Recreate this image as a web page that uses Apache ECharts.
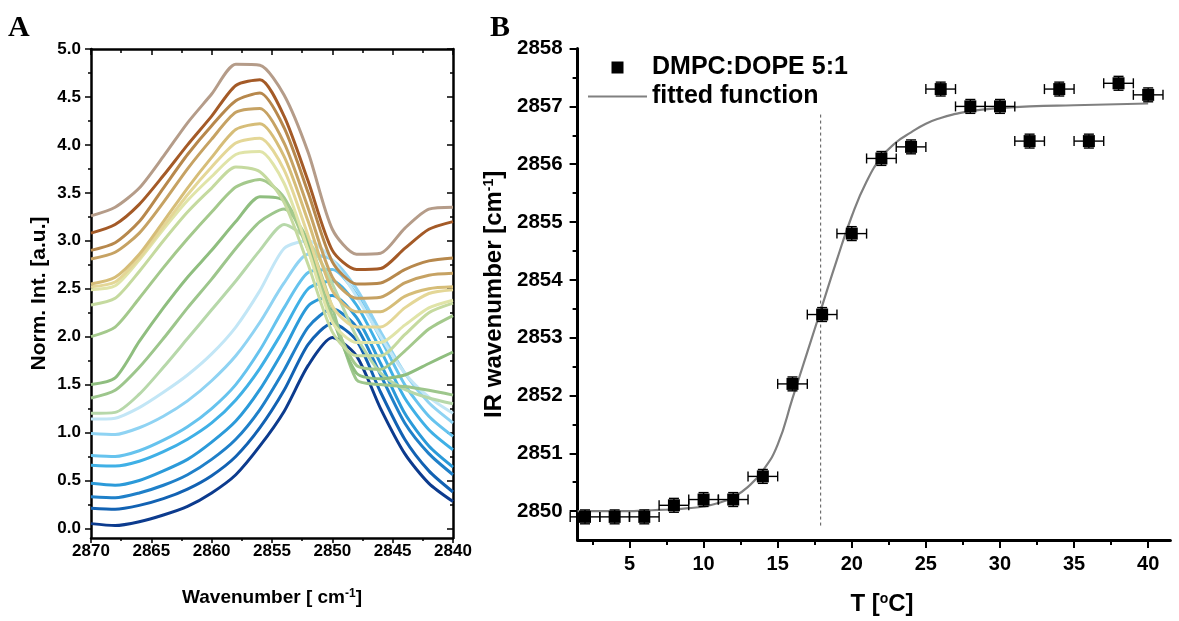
<!DOCTYPE html>
<html><head><meta charset="utf-8">
<script src="https://cdn.jsdelivr.net/npm/echarts@6/dist/echarts.min.js"></script>
<style>html,body{margin:0;padding:0;background:#fff}#c{width:1179px;height:621px}</style>
</head><body><div id="c"></div>
<script>
// ---------- Panel A: spectra ----------
const wavenumbers = [2870,2868,2866,2864,2862,2860,2858,2856,2854,2852,2850,2848,2846,2844,2842,2840];
const s02 = [0.05,0.03,0.07,0.14,0.23,0.37,0.56,0.86,1.22,1.70,1.99,1.80,1.25,0.78,0.47,0.28];
const s04 = [0.21,0.20,0.24,0.31,0.41,0.55,0.75,1.05,1.44,1.92,2.14,1.96,1.42,0.93,0.60,0.38];
const s06 = [0.33,0.32,0.37,0.45,0.56,0.72,0.93,1.24,1.65,2.10,2.29,2.10,1.60,1.10,0.78,0.56];
const s08 = [0.47,0.45,0.50,0.60,0.72,0.90,1.12,1.45,1.87,2.32,2.43,2.20,1.72,1.20,0.86,0.64];
const s10 = [0.66,0.65,0.70,0.80,0.93,1.10,1.34,1.67,2.08,2.50,2.58,2.33,1.86,1.36,1.03,0.82];
const s12 = [0.76,0.75,0.81,0.92,1.06,1.25,1.50,1.86,2.30,2.67,2.70,2.44,1.98,1.50,1.17,0.96];
const s14 = [0.99,0.98,1.05,1.17,1.33,1.54,1.80,2.15,2.56,2.86,2.80,2.50,2.05,1.62,1.31,1.10];
const s16 = [1.14,1.15,1.26,1.42,1.60,1.82,2.10,2.48,2.92,3.00,2.80,2.42,2.00,1.62,1.37,1.20];
const s18 = [1.20,1.21,1.40,1.68,1.98,2.28,2.58,2.90,3.17,3.00,2.55,2.00,1.62,1.45,1.36,1.30];
const s20 = [1.36,1.44,1.68,1.98,2.30,2.60,2.92,3.20,3.33,3.00,2.30,1.55,1.50,1.48,1.44,1.39];
const s22 = [1.50,1.57,1.95,2.30,2.62,2.90,3.20,3.46,3.42,2.95,2.20,1.62,1.56,1.60,1.72,1.84];
const s24 = [2.00,2.10,2.40,2.72,3.02,3.30,3.56,3.64,3.45,2.90,2.20,1.70,1.66,1.85,2.08,2.22];
const s26 = [2.33,2.40,2.68,3.00,3.30,3.55,3.77,3.72,3.40,2.75,2.05,1.80,1.80,2.02,2.25,2.35];
const s28 = [2.49,2.53,2.80,3.12,3.42,3.67,3.90,3.93,3.60,2.90,2.15,1.94,1.94,2.12,2.30,2.38];
const s30 = [2.52,2.57,2.82,3.15,3.48,3.77,4.02,4.07,3.74,3.05,2.32,2.10,2.10,2.30,2.45,2.49];
const s32 = [2.55,2.62,2.86,3.20,3.55,3.87,4.16,4.22,3.88,3.20,2.48,2.26,2.26,2.42,2.50,2.52];
const s34 = [2.81,2.88,3.08,3.40,3.75,4.06,4.34,4.38,4.02,3.34,2.62,2.40,2.41,2.56,2.64,2.66];
const s36 = [2.90,2.98,3.20,3.55,3.90,4.20,4.46,4.54,4.18,3.50,2.78,2.55,2.56,2.70,2.79,2.82];
const s38 = [3.08,3.17,3.38,3.68,4.00,4.30,4.62,4.68,4.30,3.62,2.90,2.70,2.71,2.92,3.12,3.20];
const s40 = [3.26,3.35,3.55,3.88,4.23,4.53,4.84,4.83,4.52,3.92,3.12,2.86,2.87,3.13,3.33,3.35];
const spectra = [s02,s04,s06,s08,s10,s12,s14,s16,s18,s20,s22,s24,s26,s28,s30,s32,s34,s36,s38,s40];
const spectrumColors = ['#0c3b8e','#1262b3','#1f80c9','#2b9ad9','#3fb0e6','#66c3ee','#8fd3f3','#c2e6f6',
  '#b7d8aa','#9dc68c','#8fbe7f','#a4c98c','#c5da9f','#e0e4a8','#e4d797','#d6bd78','#c6a263','#b7884c','#a45a27','#b59c89'];
const intensityTicks = [0,0.5,1,1.5,2,2.5,3,3.5,4,4.5,5];
const intensityMinorTicks = [0.25,0.75,1.25,1.75,2.25,2.75,3.25,3.75,4.25,4.75];

// ---------- Panel B: transition ----------
const temperatures = [2,4,6,8,10,12,14,16,18,20,22,24,26,28,30,32,34,36,38,40];
const irWavenumber = [2849.9,2849.9,2849.9,2850.1,2850.2,2850.2,2850.6,2852.2,2853.4,2854.8,2856.1,2856.3,2857.3,2857.0,2857.0,2856.4,2857.3,2856.4,2857.4,2857.2];
const errT = [1,1,1,1,1,1,1,1,1,1,1,1,1,1,1,1,1,1,1,1];
const errWn = [0.12,0.12,0.12,0.12,0.12,0.12,0.12,0.12,0.12,0.12,0.12,0.12,0.12,0.12,0.12,0.12,0.12,0.12,0.12,0.12];
const fitT = [1.5,3,4,5,6,7,8,9,10,11,12,13,14,15,16,17,18,19,20,21,22,23,24,25,26,27,28,30,32,35,40];
const fitWn = [2850.0,2850.0,2850.0,2850.0,2850.01,2850.02,2850.03,2850.05,2850.08,2850.14,2850.24,2850.42,2850.7,2851.15,2851.95,2852.75,2853.55,2854.35,2855.1,2855.7,2856.12,2856.38,2856.55,2856.7,2856.8,2856.87,2856.92,2856.97,2857.0,2857.02,2857.05];
const transitionT = [17.9,17.9];
const transitionWn = [2849.75,2856.88];
const tempTicks = [5,10,15,20,25,30,35,40];
const tempMinorTicks = [2.5,7.5,12.5,17.5,22.5,27.5,32.5,37.5];
const wnTicks = [2850,2851,2852,2853,2854,2855,2856,2857,2858];
const wnMinorTicks = [2850.5,2851.5,2852.5,2853.5,2854.5,2855.5,2856.5,2857.5];

const FONT = "'Liberation Sans', Arial, sans-serif";
const chart = echarts.init(document.getElementById('c'), null, {renderer:'canvas'});

const black = '#000';
const plain = v => String(v);
function baseAxis(extra) {
  return Object.assign({
    type:'value', splitLine:{show:false},
    axisLine:{show:true, onZero:false, lineStyle:{color:black, width:2.5}},
    axisTick:{show:true, lineStyle:{color:black, width:1.5}},
    axisLabel:{show:false}
  }, extra);
}

const xAxes = [
  baseAxis({gridIndex:0, min:2840, max:2870, inverse:true, interval:5, position:'bottom',
    axisTick:{show:true, length:5, lineStyle:{color:black,width:1.5}},
    minorTick:{show:true, splitNumber:2, length:3, lineStyle:{color:black,width:1.5}},
    axisLabel:{show:true, formatter:plain, color:black, fontSize:17, fontWeight:'bold', fontFamily:FONT, margin:5},
    name:'Wavenumber [ cm{sup|-1}]', nameLocation:'middle', nameGap:50,
    nameTextStyle:{color:black, fontSize:19, fontWeight:'bold', fontFamily:FONT,
      rich:{sup:{fontSize:12, fontWeight:'bold', fontFamily:FONT, verticalAlign:'top', color:black}}}}),
  baseAxis({gridIndex:0, min:2840, max:2870, inverse:true, interval:5, position:'top',
    axisTick:{show:true, inside:true, length:6, lineStyle:{color:black,width:1.5}},
    minorTick:{show:true, splitNumber:2, length:4, lineStyle:{color:black,width:1.5}}}),
  baseAxis({gridIndex:1, min:1.5, max:41.5, position:'bottom',
    axisLine:{show:true, onZero:false, lineStyle:{color:black, width:3}},
    axisTick:{show:true, length:8, customValues:tempTicks, lineStyle:{color:black,width:2}},
    axisLabel:{show:true, customValues:tempTicks, formatter:plain, color:black, fontSize:20, fontWeight:'bold', fontFamily:FONT, margin:14},
    name:'T [{sup|o}C]', nameLocation:'middle', nameGap:52,
    nameTextStyle:{color:black, fontSize:24, fontWeight:'bold', fontFamily:FONT, padding:[0,0,0,16],
      rich:{sup:{fontSize:14, fontWeight:'bold', fontFamily:FONT, verticalAlign:'top', color:black}}}}),
  baseAxis({gridIndex:1, min:1.5, max:41.5, position:'bottom',
    axisLine:{show:false},
    axisTick:{show:true, length:5, customValues:tempMinorTicks, lineStyle:{color:black,width:2}}})
];

const yAxes = [
  baseAxis({gridIndex:0, min:-0.1, max:5.0, position:'left',
    axisTick:{show:true, length:6, customValues:intensityTicks, lineStyle:{color:black,width:1.5}},
    axisLabel:{show:true, customValues:intensityTicks, formatter:v=>Number(v).toFixed(1), color:black, fontSize:17, fontWeight:'bold', fontFamily:FONT, margin:10},
    name:'Norm. Int. [a.u.]', nameLocation:'middle', nameGap:41, nameRotate:90,
    nameTextStyle:{color:black, fontSize:21, fontWeight:'bold', fontFamily:FONT}}),
  baseAxis({gridIndex:0, min:-0.1, max:5.0, position:'left', axisLine:{show:false},
    axisTick:{show:true, length:3, customValues:intensityMinorTicks, lineStyle:{color:black,width:1.5}}}),
  baseAxis({gridIndex:0, min:-0.1, max:5.0, position:'right',
    axisTick:{show:true, inside:true, length:6, customValues:intensityTicks, lineStyle:{color:black,width:1.5}}}),
  baseAxis({gridIndex:0, min:-0.1, max:5.0, position:'right', axisLine:{show:false},
    axisTick:{show:true, inside:true, length:3, customValues:intensityMinorTicks, lineStyle:{color:black,width:1.5}}}),
  baseAxis({gridIndex:1, min:2849.5, max:2858, position:'left',
    axisLine:{show:true, onZero:false, lineStyle:{color:black, width:3}},
    axisTick:{show:true, length:8, customValues:wnTicks, lineStyle:{color:black,width:2}},
    axisLabel:{show:true, customValues:wnTicks, formatter:plain, color:black, fontSize:20.5, fontWeight:'bold', fontFamily:FONT, margin:15},
    name:'IR wavenumber [cm{sup|-1}]', nameLocation:'middle', nameGap:62, nameRotate:90,
    nameTextStyle:{color:black, fontSize:24, fontWeight:'bold', fontFamily:FONT,
      rich:{sup:{fontSize:14, fontWeight:'bold', fontFamily:FONT, verticalAlign:'top', color:black}}}}),
  baseAxis({gridIndex:1, min:2849.5, max:2858, position:'left', axisLine:{show:false},
    axisTick:{show:true, length:5, customValues:wnMinorTicks, lineStyle:{color:black,width:2}}})
];

const series = spectra.map((s, i) => ({
  type:'line', xAxisIndex:0, yAxisIndex:0, symbol:'none', smooth:0.25,
  data: wavenumbers.map((w, j) => [w, s[j]]),
  lineStyle:{color:spectrumColors[i], width:3}, silent:true, z:2
}));

series.push({
  name:'transition', type:'line', xAxisIndex:2, yAxisIndex:4, symbol:'none', silent:true,
  data: transitionT.map((t,i)=>[t, transitionWn[i]]),
  lineStyle:{color:'#555', width:1, type:[3,3]}, z:1
});
series.push({
  name:'fitted function', type:'line', xAxisIndex:2, yAxisIndex:4, symbol:'none', smooth:true,
  data: fitT.map((t,i)=>[t, fitWn[i]]),
  lineStyle:{color:'#808080', width:2.2}, itemStyle:{color:'#808080'}, z:2
});
series.push({
  name:'errors', type:'custom', xAxisIndex:2, yAxisIndex:4, silent:true, z:3,
  data: temperatures.map((t,i)=>[t, irWavenumber[i], errT[i], errWn[i]]),
  renderItem(params, api){
    const t = api.value(0), w = api.value(1), ex = api.value(2), ey = api.value(3);
    const l = api.coord([t-ex, w]), r = api.coord([t+ex, w]);
    const tp = api.coord([t, w+ey]), bt = api.coord([t, w-ey]);
    const cap = 5;
    const st = {stroke:'#000', lineWidth:1.4, fill:null};
    const ln = (x1,y1,x2,y2)=>({type:'line', shape:{x1,y1,x2,y2}, style:st});
    return {type:'group', children:[
      ln(l[0],l[1],r[0],r[1]),
      ln(l[0],l[1]-cap,l[0],l[1]+cap),
      ln(r[0],r[1]-cap,r[0],r[1]+cap),
      ln(tp[0],tp[1],bt[0],bt[1]),
      ln(tp[0]-cap,tp[1],tp[0]+cap,tp[1]),
      ln(bt[0]-cap,bt[1],bt[0]+cap,bt[1])
    ]};
  }
});
series.push({
  name:'DMPC:DOPE 5:1', type:'scatter', xAxisIndex:2, yAxisIndex:4, symbol:'rect', symbolSize:12,
  data: temperatures.map((t,i)=>[t, irWavenumber[i]]),
  itemStyle:{color:'#000', opacity:1}, z:4
});

chart.setOption({
  animation:false,
  backgroundColor:'#fff',
  grid:[
    {left:91, top:49, width:362, height:489},
    {left:577.6, top:48.6, width:592.8, height:491.7}
  ],
  xAxis:xAxes, yAxis:yAxes,
  legend:{
    orient:'vertical', left:583, top:50, itemWidth:59, itemHeight:12, itemGap:4,
    symbolKeepAspect:true,
    data:[{name:'DMPC:DOPE 5:1', icon:'path://M0 0H10V10H0Z', itemStyle:{color:'#000', opacity:1}},
          {name:'fitted function', icon:'path://M0 0H30V1H0Z', itemStyle:{color:'#808080'}}],
    textStyle:{color:black, fontSize:25, fontWeight:'bold', fontFamily:FONT}
  },
  graphic:[
    {type:'text', left:8, top:13, style:{text:'A', fontSize:30, fontWeight:'bold', fontFamily:"'Liberation Serif','Times New Roman',serif", fill:'#000'}},
    {type:'text', left:490, top:13, style:{text:'B', fontSize:30, fontWeight:'bold', fontFamily:"'Liberation Serif','Times New Roman',serif", fill:'#000'}}
  ],
  series
});
</script></body></html>
